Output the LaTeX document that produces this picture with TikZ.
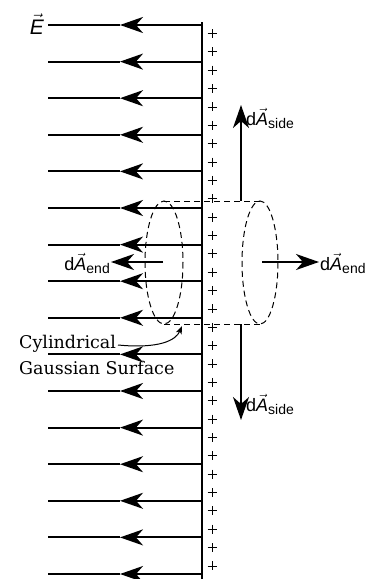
\documentclass[tikz,border=0pt]{standalone}
\usepackage{amsmath}
\usepackage{fontspec}
\setmainfont{Liberation Sans}
\newfontfamily\slabfont{DejaVu Serif}
\usetikzlibrary{arrows.meta, positioning}

\newcommand{\subtxt}[1]{\raisebox{-3.5pt}{\fontsize{14}{14}\selectfont #1}}
\tikzset{
  fieldline/.style={line width=2pt},
  bigtip/.style={-{Stealth[length=23pt, width=16pt, inset=7pt]}},
  normal/.style={line width=1.6pt, -{Stealth[length=23pt, width=16pt, inset=7pt]}},
  gauss/.style={line width=1pt, dash pattern=on 6pt off 4pt},
  vlabel/.style={font=\fontsize{18}{21}\selectfont, inner sep=0pt},
}

\begin{document}
\begin{tikzpicture}[x=1pt, y=-1pt]
\useasboundingbox (0,0) rectangle (383,579);

% gaussian cylinder
\draw[gauss] (164,262.5) ellipse [x radius=19, y radius=61.5];
\draw[gauss] (260,262.5) ellipse [x radius=18, y radius=61.5];
\draw[gauss] (164,201) -- (260,201);
\draw[gauss] (164,324) -- (260,324);

% charged plate
\draw[line width=2pt] (202,22) -- (202,579);
\foreach \i in {0,...,29}
  \draw[line width=0.8pt] (207.5,33.5+18.36*\i) -- +(9,0) (212,29+18.36*\i) -- +(0,9);

% field lines
\foreach \i in {0,...,15} {
  \coordinate (p\i) at (202,25+36.6*\i);
  \coordinate (m\i) at (120,25+36.6*\i);
  \coordinate (e\i) at (48,25+36.6*\i);
  \draw[fieldline, bigtip] (p\i) -- (m\i);
  \draw[fieldline] (m\i) -- (e\i);
}
\node[font=\fontsize{21}{24}\selectfont, anchor=base east, inner sep=1pt] at (45,34) {$\vec{\textit{E}}$};

% area vectors
\coordinate (top) at (241,201);
\coordinate (bot) at (241,324);
\coordinate (lft) at (163,262);
\coordinate (rgt) at (262,262);
\draw[normal] (top) -- (241,105) coordinate (topt);
\draw[normal] (bot) -- (241,420) coordinate (bott);
\draw[normal] (lft) -- (111,262) coordinate (lftt);
\draw[normal] (rgt) -- (319,262) coordinate (rgtt);

\node[vlabel, anchor=base west] at (246,125) {d$\vec{\textit{A}}$\subtxt{side}};
\node[vlabel, anchor=base west] at (246,411) {d$\vec{\textit{A}}$\subtxt{side}};
\node[vlabel, anchor=base west] at (320,270) {d$\vec{\textit{A}}$\subtxt{end}};
\node[vlabel, anchor=base east] at (110,270) {d$\vec{\textit{A}}$\subtxt{end}};

% surface label
\node[font=\slabfont\fontsize{17.5}{26}\selectfont, align=left, anchor=north west, inner sep=0pt] (lbl) at (19,335) {Cylindrical\\Gaussian Surface};
\coordinate (lblend) at (118,345);
\draw[line width=1pt, -{Stealth[length=8pt, width=6pt, inset=2pt]}] (lblend) .. controls (160,349) and (176,340) .. (182,326);
\end{tikzpicture}
\end{document}
